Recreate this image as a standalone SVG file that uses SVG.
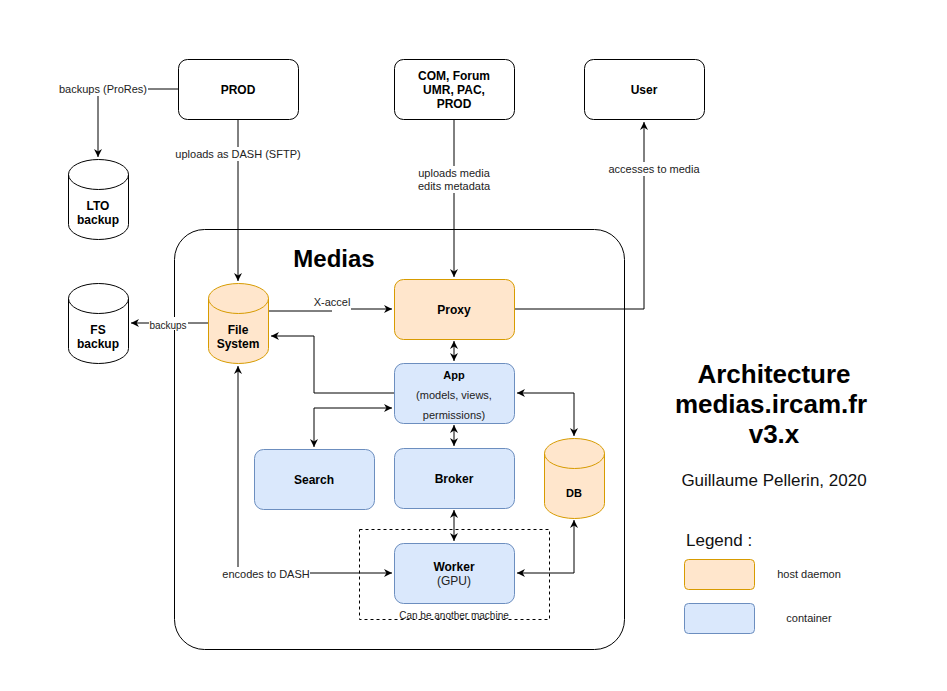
<svg xmlns="http://www.w3.org/2000/svg" width="947" height="691" viewBox="0 0 947 691">
<defs>
<marker id="arr" viewBox="0 0 10 10" refX="10" refY="5" markerWidth="8" markerHeight="8" markerUnits="userSpaceOnUse" orient="auto-start-reverse">
<path d="M0,0 L10,5 L0,10 L3,5 Z" fill="#000"/>
</marker>
<style>
text{font-family:"Liberation Sans",Arial,sans-serif;fill:#000}
.b{font-weight:bold;font-size:12px;text-anchor:middle}
.lbl{font-size:11px;text-anchor:middle;fill:#222}
.white{fill:#fff;stroke:#000;stroke-width:1}
.orange{fill:#ffe6cc;stroke:#d79b00;stroke-width:1}
.blue{fill:#dae8fc;stroke:#6c8ebf;stroke-width:1}
.edge{fill:none;stroke:#000;stroke-width:1}
.bg{fill:#fff}
</style>
</defs>
<rect width="947" height="691" fill="#fff"/>

<g id="medias">
<rect x="174.5" y="229.5" width="450" height="420" rx="30" fill="none" stroke="#000"/>
<text x="334" y="267" style="font-weight:bold;font-size:24px;text-anchor:middle">Medias</text>
</g>

<g id="worker-machine">
<rect x="359.5" y="529.5" width="190" height="90" fill="none" stroke="#000" stroke-dasharray="3 3"/>
<text x="454" y="619" style="font-size:10px;text-anchor:middle;fill:#222">Can be another machine</text>
</g>

<g id="connectors">
<path class="edge" d="M178,89 H98 V157" marker-end="url(#arr)"/>
<path class="edge" d="M238,119 V281" marker-end="url(#arr)"/>
<path class="edge" d="M454,119 V277" marker-end="url(#arr)"/>
<path class="edge" d="M514,309 H644 V122" marker-end="url(#arr)"/>
<path class="edge" d="M268,311 H332" stroke="#555"/>
<path class="edge" d="M351,309 H392" marker-end="url(#arr)"/>
<path class="edge" d="M208,323 H131" marker-end="url(#arr)"/>
<path class="edge" d="M394,393 H314 V336 H271" marker-end="url(#arr)"/>
<path class="edge" d="M314,447 V408 H392" marker-start="url(#arr)" marker-end="url(#arr)"/>
<path class="edge" d="M454,341 V361" marker-start="url(#arr)" marker-end="url(#arr)"/>
<path class="edge" d="M454,425 V446" marker-start="url(#arr)" marker-end="url(#arr)"/>
<path class="edge" d="M517,393 H574 V436" marker-start="url(#arr)" marker-end="url(#arr)"/>
<path class="edge" d="M454,510 V541" marker-start="url(#arr)" marker-end="url(#arr)"/>
<path class="edge" d="M574,520 V573 H517" marker-start="url(#arr)" marker-end="url(#arr)"/>
<path class="edge" d="M392,573 H238 V366" marker-start="url(#arr)" marker-end="url(#arr)"/>

<rect class="bg" x="58" y="82" width="90" height="14"/>
<text class="lbl" x="103" y="93">backups (ProRes)</text>
<rect class="bg" x="175" y="147" width="127" height="14"/>
<text class="lbl" x="238" y="158">uploads as DASH (SFTP)</text>
<rect class="bg" x="417" y="166" width="75" height="27"/>
<text class="lbl" x="454" y="177">uploads media</text>
<text class="lbl" x="454" y="190">edits metadata</text>
<rect class="bg" x="607" y="162" width="95" height="14"/>
<text class="lbl" x="654" y="173">accesses to media</text>
<text class="lbl" x="332" y="306">X-accel</text>
<rect class="bg" x="149" y="317" width="39" height="13"/>
<text x="168" y="329" style="font-size:10px;text-anchor:middle;fill:#222">backups</text>
<rect class="bg" x="222" y="567" width="88" height="14"/>
<text class="lbl" x="266" y="578">encodes to DASH</text>
</g>

<g id="prod">
<rect class="white" x="178.5" y="59.5" width="120" height="60" rx="9"/>
<text class="b" x="238" y="94">PROD</text>
</g>
<g id="com">
<rect class="white" x="394.5" y="59.5" width="120" height="60" rx="9"/>
<text class="b" x="454" y="80">COM, Forum</text>
<text class="b" x="454" y="94">UMR, PAC,</text>
<text class="b" x="454" y="108">PROD</text>
</g>
<g id="user">
<rect class="white" x="584.5" y="59.5" width="120" height="60" rx="9"/>
<text class="b" x="644" y="94">User</text>
</g>

<g id="lto">
<path class="white" d="M68.5,174.5 A30,15 0 0 1 128.5,174.5 V224.5 A30,15 0 0 1 68.5,224.5 Z"/>
<path fill="none" stroke="#000" d="M68.5,174.5 A30,15 0 0 0 128.5,174.5"/>
<text class="b" x="98" y="210">LTO</text>
<text class="b" x="98" y="224">backup</text>
</g>
<g id="fsbackup">
<path class="white" d="M68.5,298.5 A30,15 0 0 1 128.5,298.5 V348.5 A30,15 0 0 1 68.5,348.5 Z"/>
<path fill="none" stroke="#000" d="M68.5,298.5 A30,15 0 0 0 128.5,298.5"/>
<text class="b" x="98" y="334">FS</text>
<text class="b" x="98" y="348">backup</text>
</g>

<g id="filesystem">
<path class="orange" d="M208.5,298.5 A30,15 0 0 1 268.5,298.5 V348.5 A30,15 0 0 1 208.5,348.5 Z"/>
<path fill="none" stroke="#d79b00" d="M208.5,298.5 A30,15 0 0 0 268.5,298.5"/>
<text class="b" x="238" y="334">File</text>
<text class="b" x="238" y="348">System</text>
</g>

<g id="proxy">
<rect class="orange" x="394.5" y="279.5" width="120" height="60" rx="9"/>
<text class="b" x="454" y="314">Proxy</text>
</g>

<g id="app">
<rect class="blue" x="394.5" y="363.5" width="120" height="60" rx="9"/>
<text x="454" y="379" style="font-weight:bold;font-size:11px;text-anchor:middle">App</text>
<text x="454" y="399" style="font-size:11px;text-anchor:middle;fill:#222">(models, views,</text>
<text x="454" y="419" style="font-size:11px;text-anchor:middle;fill:#222">permissions)</text>
</g>

<g id="search">
<rect class="blue" x="254.5" y="449.5" width="120" height="60" rx="9"/>
<text class="b" x="314" y="484">Search</text>
</g>

<g id="broker">
<rect class="blue" x="394.5" y="448.5" width="120" height="60" rx="9"/>
<text class="b" x="454" y="483">Broker</text>
</g>

<g id="db">
<path class="orange" d="M544.5,453.5 A30,15 0 0 1 604.5,453.5 V503.5 A30,15 0 0 1 544.5,503.5 Z"/>
<path fill="none" stroke="#d79b00" d="M544.5,453.5 A30,15 0 0 0 604.5,453.5"/>
<text x="574" y="497" style="font-weight:bold;font-size:11px;text-anchor:middle">DB</text>
</g>

<g id="worker">
<rect class="blue" x="394.5" y="543.5" width="120" height="60" rx="9"/>
<text class="b" x="454" y="571">Worker</text>
<text x="454" y="585" style="font-size:12px;text-anchor:middle;fill:#222">(GPU)</text>
</g>

<g id="title">
<text x="774" y="383" style="font-weight:bold;font-size:26px;text-anchor:middle">Architecture</text>
<text x="771" y="413" style="font-weight:bold;font-size:26px;text-anchor:middle">medias.ircam.fr</text>
<text x="774" y="443" style="font-weight:bold;font-size:26px;text-anchor:middle">v3.x</text>
<text x="774" y="486" style="font-size:17px;text-anchor:middle;fill:#111">Guillaume Pellerin, 2020</text>
</g>

<g id="legend">
<text x="686" y="546" style="font-size:17px;fill:#111">Legend :</text>
<rect class="orange" x="684.5" y="559.5" width="70" height="30" rx="4"/>
<text x="809" y="578" style="font-size:11px;text-anchor:middle;fill:#222">host daemon</text>
<rect class="blue" x="684.5" y="603.5" width="70" height="30" rx="4"/>
<text x="809" y="622" style="font-size:11px;text-anchor:middle;fill:#222">container</text>
</g>
</svg>
